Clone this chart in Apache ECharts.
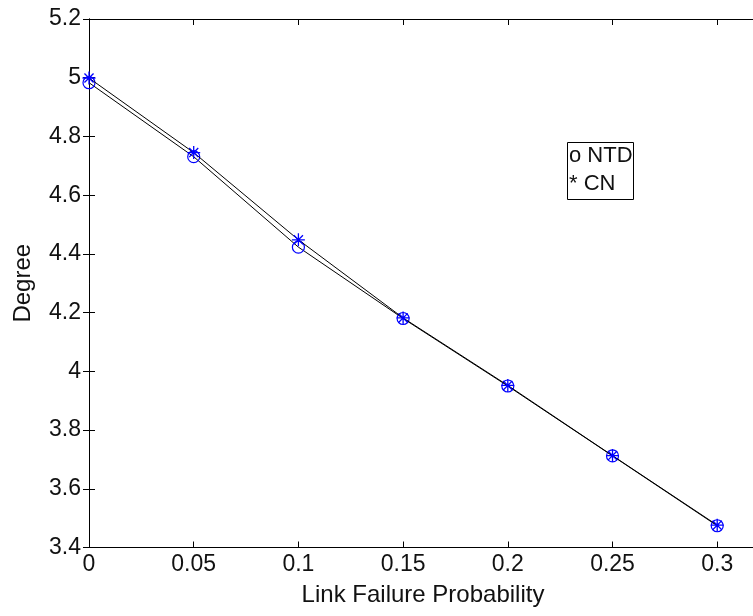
<!DOCTYPE html>
<html>
<head>
<meta charset="utf-8">
<script src="https://cdn.jsdelivr.net/npm/echarts@6/dist/echarts.min.js"></script>
<style>
  html, body { margin: 0; padding: 0; background: #fff; overflow: hidden; }
  /* The plot frame's right edge sits just past the window edge */
  #chart { width: 760px; height: 616px; }
</style>
</head>
<body>
<div id="chart"></div>
<script>
// Link failure probabilities on the x axis
const probabilities = [0, 0.05, 0.1, 0.15, 0.2, 0.25, 0.3];
// Average node degree for each scheme
const ntdDegree = [4.983, 4.731, 4.423, 4.180, 3.950, 3.712, 3.474];
const cnDegree  = [4.999, 4.745, 4.448, 4.182, 3.952, 3.713, 3.476];
const legendLines = ['o NTD', '* CN'];

const pairs = (xs, ys) => xs.map((x, i) => [x, ys[i]]);

// MATLAB-style asterisk marker: plus and cross strokes
const asterisk = 'path://M0,-10L0,10M-10,0L10,0M-7,-7L7,7M-7,7L7,-7';

const font = 'Liberation Sans, Arial, sans-serif';
const textColor = '#111';
const tickFontSize = 23;
const nameFontSize = 24;
const legendFontSize = 22;

const chart = echarts.init(document.getElementById('chart'), null, { renderer: 'canvas' });

const baseAxisLine = { show: true, lineStyle: { color: '#000', width: 1 } };
const baseTick = { show: true, inside: true, length: 6, lineStyle: { color: '#000', width: 1 } };

chart.setOption({
  animation: false,
  backgroundColor: '#fff',
  grid: { left: 89, top: 19, right: 3, bottom: 68.5 },
  xAxis: [
    {
      type: 'value', min: 0, max: 0.319, interval: 0.05,
      axisLine: baseAxisLine, axisTick: baseTick, splitLine: { show: false },
      axisLabel: { color: textColor, fontFamily: font, fontSize: tickFontSize, margin: 6, showMaxLabel: false },
      name: 'Link Failure Probability', nameLocation: 'middle', nameGap: 36,
      nameTextStyle: { color: textColor, fontFamily: font, fontSize: nameFontSize, verticalAlign: 'top' }
    },
    {
      type: 'value', position: 'top', min: 0, max: 0.319, interval: 0.05,
      axisLine: baseAxisLine, axisTick: baseTick, splitLine: { show: false },
      axisLabel: { show: false }
    }
  ],
  yAxis: [
    {
      type: 'value', min: 3.4, max: 5.2, interval: 0.2,
      axisLine: baseAxisLine, axisTick: baseTick, splitLine: { show: false },
      axisLabel: { color: textColor, fontFamily: font, fontSize: tickFontSize, margin: 8 },
      name: 'Degree', nameLocation: 'middle', nameGap: 54,
      nameTextStyle: { color: textColor, fontFamily: font, fontSize: nameFontSize }
    },
    {
      type: 'value', position: 'right', min: 3.4, max: 5.2, interval: 0.2,
      axisLine: baseAxisLine, axisTick: baseTick, splitLine: { show: false },
      axisLabel: { show: false }
    }
  ],
  series: [
    {
      name: 'NTD', type: 'line', data: pairs(probabilities, ntdDegree),
      lineStyle: { color: '#000', width: 1 },
      symbol: 'circle', symbolSize: 12, showAllSymbol: true,
      itemStyle: { color: 'rgba(0,0,0,0)', borderColor: '#0000ff', borderWidth: 1.2 },
      z: 3
    },
    {
      name: 'CN', type: 'line', data: pairs(probabilities, cnDegree),
      lineStyle: { color: '#000', width: 1 },
      symbol: asterisk, symbolSize: 13, showAllSymbol: true,
      itemStyle: { color: 'none', borderColor: '#0000ff', borderWidth: 1.3 },
      z: 4
    }
  ],
  graphic: [
    {
      type: 'rect', left: 567, top: 142,
      shape: { width: 66, height: 57 },
      style: { fill: '#fff', stroke: '#000', lineWidth: 1 }, z: 10
    },
    {
      type: 'text', left: 569, top: 145,
      style: { text: legendLines[0], fill: textColor, font: legendFontSize + 'px ' + font }, z: 11
    },
    {
      type: 'text', left: 569, top: 172.5,
      style: { text: legendLines[1], fill: textColor, font: legendFontSize + 'px ' + font }, z: 11
    }
  ]
});
</script>
</body>
</html>
